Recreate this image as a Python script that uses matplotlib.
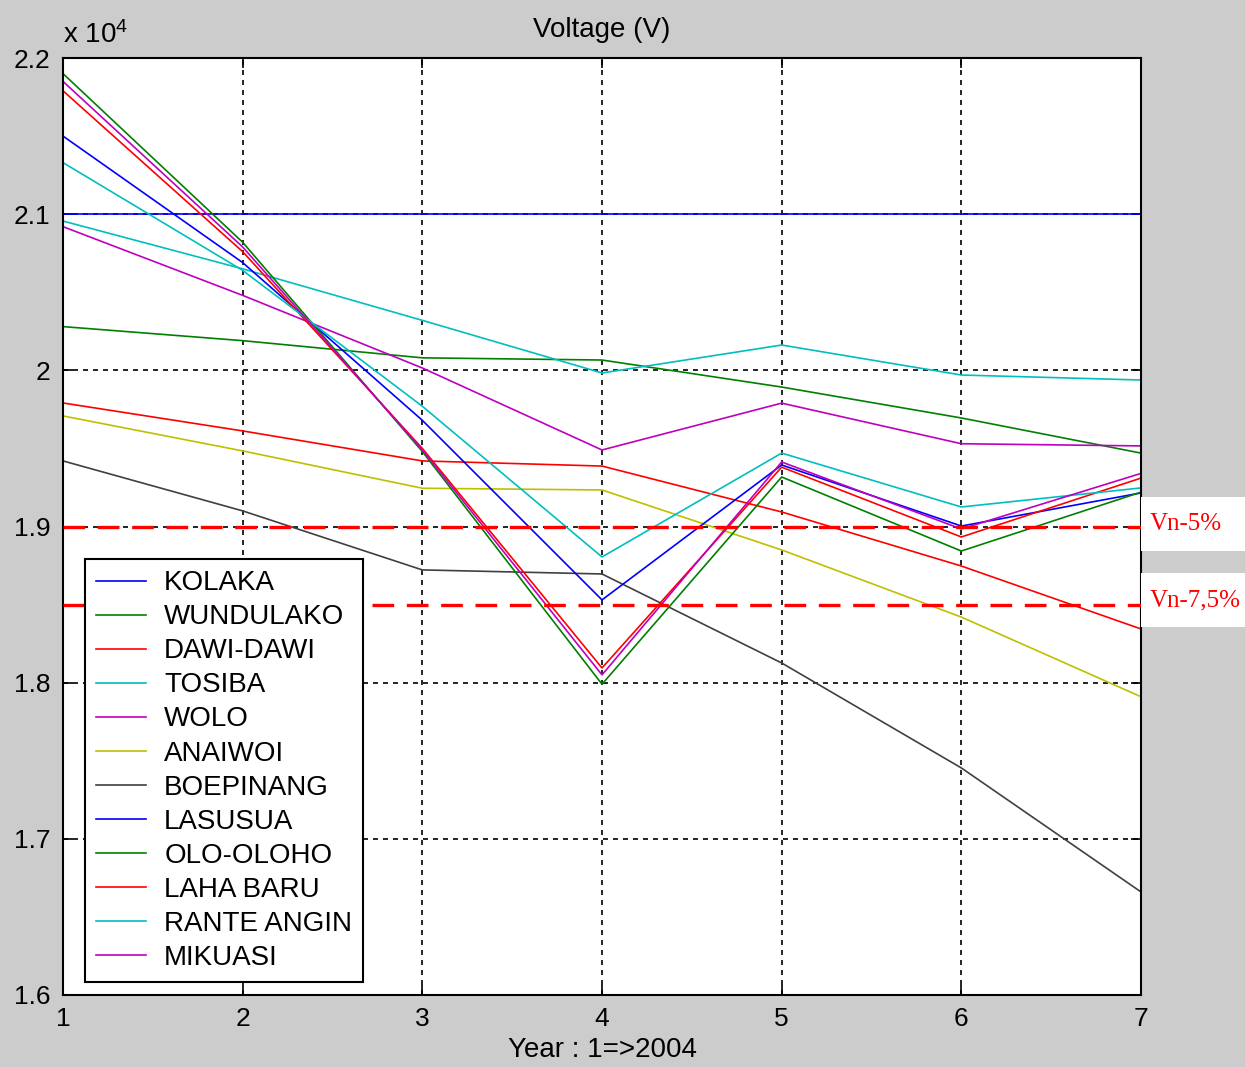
import matplotlib
matplotlib.use("Agg")
import matplotlib.pyplot as plt
from matplotlib.ticker import FuncFormatter
from matplotlib.patches import Rectangle

years = [1, 2, 3, 4, 5, 6, 7]

names = ['KOLAKA', 'WUNDULAKO', 'DAWI-DAWI', 'TOSIBA', 'WOLO', 'ANAIWOI',
         'BOEPINANG', 'LASUSUA', 'OLO-OLOHO', 'LAHA BARU', 'RANTE ANGIN', 'MIKUASI']

kolaka = [21000, 21000, 21000, 21000, 21000, 21000, 21000]
wundulako = [20280, 20190, 20080, 20066, 19893, 19695, 19470]
dawi_dawi = [19791, 19612, 19420, 19387, 19093, 18747, 18344]
tosiba = [20956, 20650, 20320, 19983, 20162, 19970, 19938]
wolo = [20920, 20480, 20015, 19490, 19790, 19530, 19516]
anaiwoi = [19708, 19484, 19245, 19234, 18850, 18420, 17910]
boepinang = [19420, 19100, 18722, 18696, 18126, 17454, 16660]
lasusua = [21500, 20690, 19680, 18530, 19394, 19003, 19215]
olo_oloho = [21900, 20820, 19480, 17990, 19317, 18843, 19220]
laha_baru = [21790, 20760, 19500, 18094, 19380, 18933, 19310]
rante_angin = [21330, 20640, 19770, 18805, 19470, 19125, 19247]
mikuasi = [21850, 20790, 19490, 18050, 19413, 18984, 19340]

series = [kolaka, wundulako, dawi_dawi, tosiba, wolo, anaiwoi, boepinang,
          lasusua, olo_oloho, laha_baru, rante_angin, mikuasi]

# old matlab colour order
colors = [(0, 0, 1), (0, 0.5, 0), (1, 0, 0), (0, 0.75, 0.75),
          (0.75, 0, 0.75), (0.75, 0.75, 0), (0.25, 0.25, 0.25)]

vn_5 = 19000
vn_75 = 18500

plt.rcParams['font.family'] = ['Liberation Sans', 'DejaVu Sans']
plt.rcParams['mathtext.fontset'] = 'custom'
plt.rcParams['mathtext.rm'] = 'Liberation Sans'
plt.rcParams['mathtext.it'] = 'Liberation Sans'


def main():
    fig = plt.figure(figsize=(12.45, 10.67), dpi=100, facecolor='#cccccc')
    ax = fig.add_axes([63 / 1245, 1 - 995 / 1067, 1078 / 1245, 937 / 1067])
    ax.set_facecolor('white')

    for i, (name, vals) in enumerate(zip(names, series)):
        ax.plot(years, vals, color=colors[i % 7], lw=1.2, label=name)

    ax.plot(years, [vn_5] * len(years), color='red', lw=2.4,
            linestyle=(0, (6.5, 3.8)), zorder=5)
    ax.plot(years, [vn_75] * len(years), color='red', lw=2.4,
            linestyle=(0, (6.5, 3.8)), zorder=5)

    ax.set_xlim(1, 7)
    ax.set_ylim(16000, 22000)
    ax.set_xticks(years)
    ax.set_yticks([16000, 17000, 18000, 19000, 20000, 21000, 22000])
    ax.yaxis.set_major_formatter(FuncFormatter(lambda v, p: '%g' % (v / 1e4)))
    ax.grid(True, color='black', linestyle=(0, (3, 3)), lw=1.2)
    ax.tick_params(direction='in', length=7, width=1.2, top=True, right=True,
                   labelsize=19, pad=9)
    for s in ax.spines.values():
        s.set_linewidth(1.5)

    ax.set_title('Voltage (V)', fontsize=20, pad=15)
    ax.set_xlabel('Year : 1=>2004', fontsize=20, labelpad=4)
    ax.text(0.0, 1.01, r'x 10$^4$', transform=ax.transAxes, fontsize=20,
            ha='left', va='bottom')

    leg = ax.legend(loc='lower left', bbox_to_anchor=(0.0204, 0.0139),
                    borderaxespad=0, fontsize=20, handlelength=1.8,
                    labelspacing=0.29, fancybox=False, framealpha=1,
                    edgecolor='black', borderpad=0.4, handletextpad=0.65)
    leg.get_frame().set_linewidth(1.5)

    # white label boxes at the right edge
    for top, txt in [(497, 'Vn-5%'), (573, 'Vn-7,5%')]:
        fig.patches.append(Rectangle((1141 / 1245, 1 - (top + 54) / 1067),
                                     104 / 1245, 54 / 1067, transform=fig.transFigure,
                                     facecolor='white', edgecolor='none', zorder=10))
        fig.text(1150 / 1245, 1 - (top + 27) / 1067, txt, color='red',
                 fontsize=18, family='Liberation Serif', va='center', ha='left',
                 zorder=11)

    fig.savefig('out.png', dpi=100, facecolor=fig.get_facecolor())


if __name__ == "__main__":
    main()
